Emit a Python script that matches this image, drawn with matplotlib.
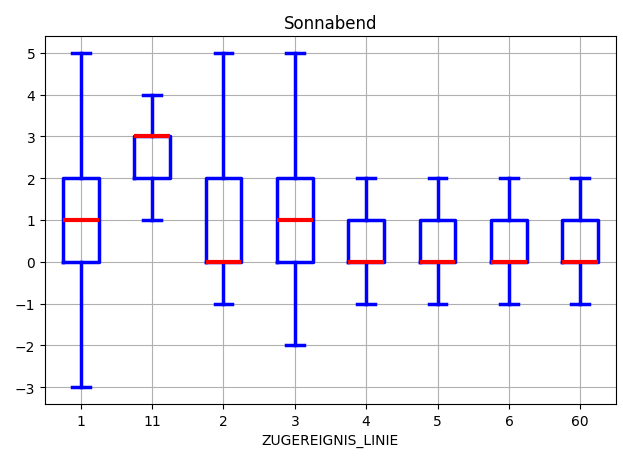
import matplotlib
matplotlib.use("Agg")
import matplotlib.pyplot as plt

# Kategorien und Boxplot-Kennwerte (untere Antenne, Q1, Median, Q3, obere Antenne)
linien = ["1", "11", "2", "3", "4", "5", "6", "60"]
whislo = [-3, 1, -1, -2, -1, -1, -1, -1]
q1 = [0, 2, 0, 0, 0, 0, 0, 0]
med = [1, 3, 0, 1, 0, 0, 0, 0]
q3 = [2, 3, 2, 2, 1, 1, 1, 1]
whishi = [5, 4, 5, 5, 2, 2, 2, 2]

stats = []
for i, name in enumerate(linien):
    stats.append({"label": name, "whislo": whislo[i], "q1": q1[i], "med": med[i],
                  "q3": q3[i], "whishi": whishi[i], "fliers": []})

fig = plt.figure(figsize=(6.23, 4.6), dpi=100)
ax = fig.add_axes([45 / 623, 1 - 405 / 460, 571 / 623, 368 / 460])

lw = 2.5
ax.bxp(stats, widths=0.5, showfliers=False,
       boxprops=dict(color="blue", linewidth=lw),
       whiskerprops=dict(color="blue", linewidth=lw),
       capprops=dict(color="blue", linewidth=lw),
       medianprops=dict(color="red", linewidth=lw + 0.5))

ax.grid(True)
ax.set_axisbelow(True)
ax.set_title("Sonnabend")
ax.set_xlabel("ZUGEREIGNIS_LINIE")

fig.savefig("out.png", dpi=100)
